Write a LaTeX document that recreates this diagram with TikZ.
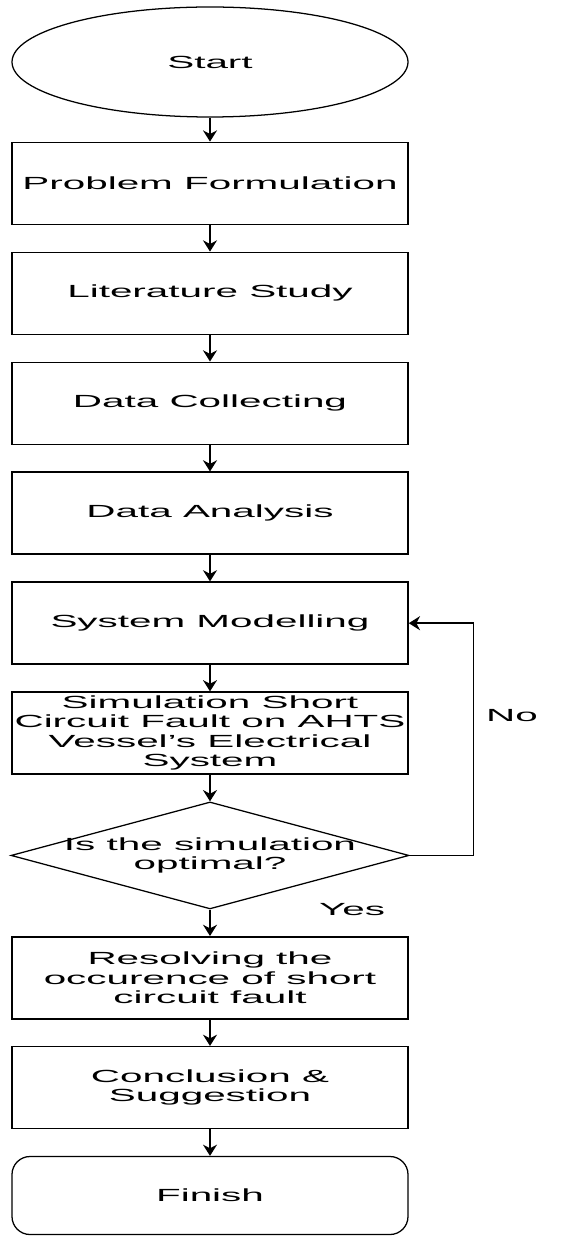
\documentclass[tikz,border=0pt]{standalone}
\usepackage{fontspec}
\setmainfont[FakeStretch=2.3]{Liberation Sans}
\usetikzlibrary{positioning,shapes.geometric,arrows.meta}
\tikzstyle{squared} = [rectangle, minimum width=9.9cm, minimum height=2.05cm, inner sep=1pt, text centered, align=center, draw=black, line width=1.1pt]
\tikzstyle{startoval} = [ellipse, minimum width=9.9cm, minimum height=2.75cm, draw=black, line width=0.9pt]
\tikzstyle{decision} = [diamond, aspect=3.72, minimum width=9.95cm, minimum height=2.675cm, align=center, inner sep=0pt, draw=black, line width=0.9pt]
\tikzstyle{terminal} = [rectangle, rounded corners=0.45cm, minimum width=9.9cm, minimum height=1.95cm, draw=black, line width=0.9pt]
\tikzstyle{connect} = [line width=1.1pt, -{Stealth[length=8pt,width=10pt]}]

\begin{document}
\begin{tikzpicture}[node distance=0.66cm, font=\fontsize{12.5}{13.8}\selectfont]
			
			\useasboundingbox (0,0) rectangle (14.2,-30.925);
			
			\node (start) [startoval] at (5.25,-1.55) {Start};
			\node (formulation) [squared, below=0.6cm of start] {Problem Formulation};
			\node (literature) [squared, below=of formulation] {Literature Study};
			\node (collecting) [squared, below=of literature] {Data Collecting};
			\node (analysis) [squared, below=of collecting] {Data Analysis};
			\node (modelling) [squared, below=of analysis] {System Modelling};
			\node (simulation) [squared, below=of modelling] {Simulation Short\\Circuit Fault on AHTS\\Vessel's Electrical\\System};
			\node (optimal) [decision, below=of simulation] {\makebox[0pt]{Is the simulation}\\\makebox[0pt]{optimal?}};
			\node (resolving) [squared, below=of optimal] {Resolving the\\occurence of short\\circuit fault};
			\node (conclusion) [squared, below=of resolving] {Conclusion \&\\Suggestion};
			\node (finish) [terminal, below=of conclusion] {Finish};
			
			\node (no) at (12.8,-17.9) {No};
			\node (yes) at (8.8,-22.75) {Yes};
			
			\draw[connect] (start.south) -- (formulation.north);
			\draw[connect] (formulation.south) -- (literature.north);
			\draw[connect] (literature.south) -- (collecting.north);
			\draw[connect] (collecting.south) -- (analysis.north);
			\draw[connect] (analysis.south) -- (modelling.north);
			\draw[connect] (modelling.south) -- (simulation.north);
			\draw[connect] (simulation.south) -- (optimal.north);
			\draw[connect] (optimal.south) -- (resolving.north);
			\draw[connect] (optimal.east) -- ++(1.6,0) |- (modelling.east);
			\draw[connect] (resolving.south) -- (conclusion.north);
			\draw[connect] (conclusion.south) -- (finish.north);
			
			\end{tikzpicture}
\end{document}
